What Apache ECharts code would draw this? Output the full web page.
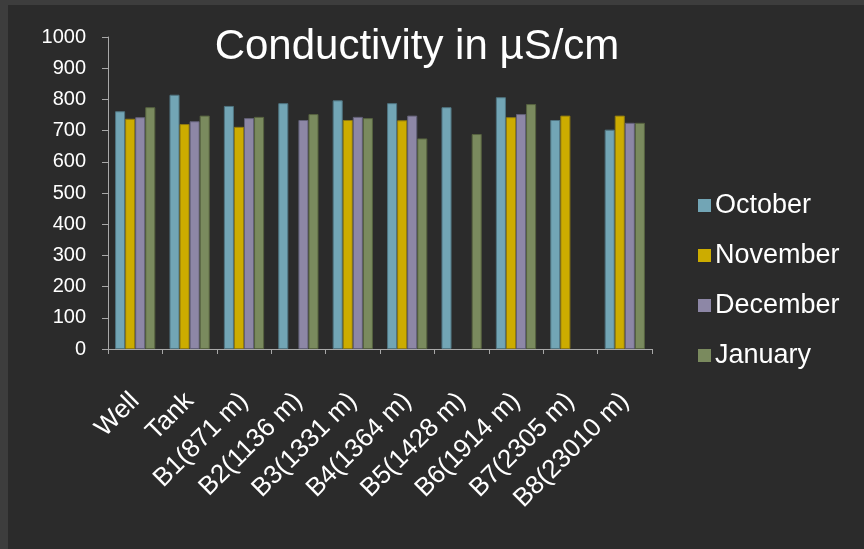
<!DOCTYPE html>
<html>
<head>
<meta charset="utf-8">
<script src="https://cdn.jsdelivr.net/npm/echarts@6/dist/echarts.min.js"></script>
<style>
  html, body { margin: 0; padding: 0; background: #3d3d3d; }
  #chart { width: 864px; height: 549px; }
</style>
</head>
<body>
<div id="chart"></div>
<script>
// Sampling sites along the pipeline
const sites = ['Well', 'Tank', 'B1(871 m)', 'B2(1136 m)', 'B3(1331 m)', 'B4(1364 m)',
               'B5(1428 m)', 'B6(1914 m)', 'B7(2305 m)', 'B8(23010 m)'];

// Conductivity readings (µS/cm); null = no measurement that month
const october  = [762, 815, 779, 788, 797, 788, 775, 807, 734, 703];
const november = [738, 721, 712, null, 734, 733, null, 743, 748, 748];
const december = [743, 730, 740, 734, 744, 748, null, 753, null, 725];
const january  = [775, 748, 744, 753, 740, 675, 689, 785, null, 725];

const yTicks = { min: 0, max: 1000, interval: 100 };

const months = [
  { name: 'October',  data: october,  color: '#72a5b5', border: '#4f7480' },
  { name: 'November', data: november, color: '#ccac00', border: '#8f7a10' },
  { name: 'December', data: december, color: '#8d87a6', border: '#626077' },
  { name: 'January',  data: january,  color: '#7a8a5e', border: '#56623f' }
];

const chart = echarts.init(document.getElementById('chart'), null, { renderer: 'canvas' });

const font = '"Liberation Sans", Arial, sans-serif';

chart.setOption({
  backgroundColor: '#3d3d3d',
  animation: false,
  textStyle: { fontFamily: font },
  graphic: [
    {
      type: 'rect', left: 8, top: 5, z: -10, silent: true,
      shape: { width: 856, height: 544 },
      style: { fill: '#2b2b2b' }
    }
  ],
  title: {
    text: 'Conductivity in µS/cm',
    left: 412, top: 21, textAlign: 'center',
    textStyle: { color: '#ffffff', fontSize: 42, fontWeight: 'normal', fontFamily: font }
  },
  legend: {
    orient: 'vertical',
    left: 693, top: 187,
    itemWidth: 13, itemHeight: 13, itemGap: 23,
    icon: 'rect',
    itemStyle: { borderWidth: 0 },
    textStyle: { color: '#ffffff', fontSize: 27, fontFamily: font, padding: [0, 0, 0, -1] },
    data: months.map(m => m.name)
  },
  grid: { left: 108, right: 212, top: 37, bottom: 200, containLabel: false },
  xAxis: {
    type: 'category',
    data: sites,
    axisLine: { lineStyle: { color: '#a8a8a8', width: 1 } },
    axisTick: { show: true, length: 5, lineStyle: { color: '#a8a8a8' } },
    axisLabel: {
      color: '#ffffff', fontSize: 26, rotate: 45, interval: 0, margin: 48,
      fontFamily: font
    }
  },
  yAxis: {
    type: 'value',
    min: yTicks.min, max: yTicks.max, interval: yTicks.interval,
    axisLine: { show: true, lineStyle: { color: '#a8a8a8', width: 1 } },
    axisTick: { show: true, length: 6, lineStyle: { color: '#a8a8a8' } },
    splitLine: { show: false },
    axisLabel: {
      color: '#ffffff', fontSize: 20, margin: 22, fontFamily: font,
      formatter: v => String(v)
    }
  },
  series: months.map(m => ({
    name: m.name,
    type: 'bar',
    data: m.data,
    barGap: '0%',
    barCategoryGap: '26%',
    itemStyle: { color: m.color, borderColor: m.border, borderWidth: 1 }
  }))
});
</script>
</body>
</html>
